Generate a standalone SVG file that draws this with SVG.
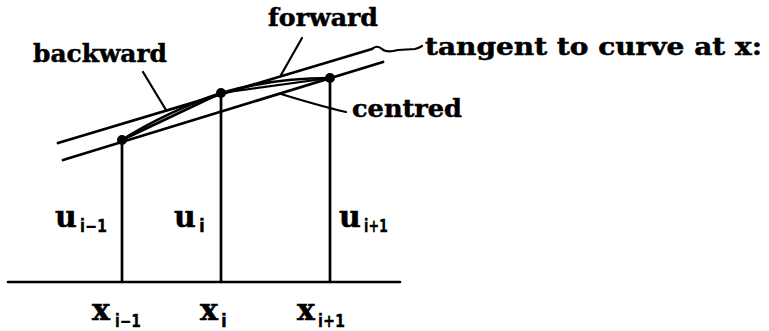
<svg xmlns="http://www.w3.org/2000/svg" width="769" height="331" viewBox="0 0 769 331">
<style>
.ln{stroke:#000;stroke-width:2.7;fill:none;stroke-linecap:round}
.thin{stroke:#000;stroke-width:2.2;fill:none;stroke-linecap:round}
.lbl{font-family:"DejaVu Serif","Liberation Serif",serif;font-weight:bold;font-size:24px;fill:#000;stroke:#000;stroke-width:0.5}
.v{font-family:"DejaVu Serif","Liberation Serif",serif;font-weight:bold;font-size:30px;fill:#000;stroke:#000;stroke-width:0.6}
.s{font-family:"DejaVu Sans","Liberation Sans",sans-serif;font-weight:bold;font-size:17px;fill:#000;stroke:#000;stroke-width:0.3}
.dot{fill:#000}
</style>
<rect width="769" height="331" fill="#fff"/>
<g id="connectors">
  <line class="ln" x1="8" y1="282" x2="400" y2="282"/>
  <line class="ln" x1="122" y1="140" x2="122" y2="282"/>
  <line class="ln" x1="221" y1="93" x2="221" y2="282"/>
  <line class="ln" x1="330" y1="78" x2="330" y2="282"/>
  <line class="ln" x1="58" y1="143" x2="372" y2="49"/>
  <path class="thin" d="M372,49 C375,46 379,46 382,49 C385,52 391,52 398,50 L415,49 Q419,48 422,46"/>
  <line class="ln" x1="63" y1="160" x2="383" y2="62"/>
  <line class="ln" x1="122" y1="140" x2="221" y2="93"/>
  <line class="thin" x1="221" y1="93" x2="330" y2="78"/>
  <path class="ln" d="M122,140 C148,123 190,103 221,93 C255,83 292,78 330,78"/>
  <line class="thin" x1="143" y1="72" x2="166" y2="110"/>
  <line class="thin" x1="302" y1="38" x2="281" y2="75"/>
  <path class="thin" d="M346,112 Q320,106 281,94"/>
</g>
<g id="points">
  <circle class="dot" cx="122" cy="140" r="5"/>
  <circle class="dot" cx="221" cy="93" r="5"/>
  <circle class="dot" cx="330" cy="78" r="5"/>
</g>
<g id="label-backward"><text class="lbl" x="33" y="62" textLength="134" lengthAdjust="spacingAndGlyphs">backward</text></g>
<g id="label-forward"><text class="lbl" x="268" y="26" textLength="110" lengthAdjust="spacingAndGlyphs">forward</text></g>
<g id="label-tangent"><text class="lbl" x="425" y="55" textLength="337" lengthAdjust="spacingAndGlyphs">tangent to curve at x:</text></g>
<g id="label-centred"><text class="lbl" x="352" y="117" textLength="110" lengthAdjust="spacingAndGlyphs">centred</text></g>
<g id="label-u-im1"><text class="v" x="55" y="227">u</text><text class="s" x="80" y="232" textLength="27" lengthAdjust="spacingAndGlyphs">i−1</text></g>
<g id="label-u-i"><text class="v" x="174" y="227">u</text><text class="s" x="199" y="232">i</text></g>
<g id="label-u-ip1"><text class="v" x="339" y="227">u</text><text class="s" x="364" y="232" textLength="24" lengthAdjust="spacingAndGlyphs">i+1</text></g>
<g id="label-x-im1"><text class="v" x="92" y="320">x</text><text class="s" x="115" y="327" textLength="26" lengthAdjust="spacingAndGlyphs">i−1</text></g>
<g id="label-x-i"><text class="v" x="200" y="320">x</text><text class="s" x="221" y="327">i</text></g>
<g id="label-x-ip1"><text class="v" x="297" y="320">x</text><text class="s" x="318" y="327" textLength="27" lengthAdjust="spacingAndGlyphs">i+1</text></g>
</svg>
